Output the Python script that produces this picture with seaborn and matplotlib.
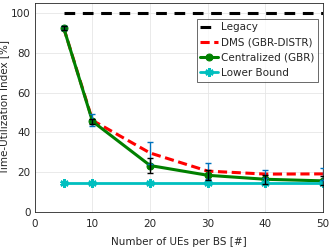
import matplotlib
matplotlib.use("Agg")
import matplotlib.pyplot as plt
import seaborn as sns
import numpy as np
import pandas as pd

ues = [5, 10, 20, 30, 40, 50]
legacy = [100, 100, 100, 100, 100, 100]
dms = [92.5, 46.0, 29.6, 20.5, 19.0, 19.1]
dms_err = [1.0, 3.0, 5.3, 4.0, 2.0, 3.0]
central = [92.5, 45.5, 23.3, 18.4, 16.4, 15.6]
central_err = [1.0, 1.2, 4.0, 2.5, 2.3, 2.2]
lower = [14.3, 14.3, 14.3, 14.3, 14.3, 14.3]

sns.set_style("white")
plt.rcParams['font.family'] = ['DejaVu Sans']

fig = plt.figure(figsize=(3.32, 2.49), dpi=100)
ax = fig.add_axes([0.105, 0.149, 0.868, 0.839])

df = pd.DataFrame({"x": ues, "Legacy": legacy, "DMS": dms, "Central": central, "Lower": lower})

sns.lineplot(data=df, x="x", y="Legacy", ax=ax, color="black", lw=2.2,
             linestyle=(0, (3.5, 2.5)), label="Legacy")
sns.lineplot(data=df, x="x", y="DMS", ax=ax, color="#FF0000", lw=2.2,
             linestyle=(0, (3, 1.5)), label="DMS (GBR-DISTR)")
sns.lineplot(data=df, x="x", y="Central", ax=ax, color="#008000", lw=2.2,
             marker="o", markersize=5, markeredgecolor="#008000", label="Centralized (GBR)")
sns.lineplot(data=df, x="x", y="Lower", ax=ax, color="#00BFBF", lw=2.0,
             marker=(6, 2, 0), markersize=6, markeredgewidth=1.8,
             markeredgecolor="#00BFBF", label="Lower Bound")

ax.errorbar(ues, dms, yerr=dms_err, fmt="none", ecolor="#0072BD", elinewidth=1.0, capsize=2.5, capthick=1.0, zorder=5)
ax.errorbar(ues, central, yerr=central_err, fmt="none", ecolor="black", elinewidth=1.0, capsize=2.5, capthick=1.0, zorder=6)

ax.set_xlim(0, 50)
ax.set_ylim(0, 105)
ax.set_xticks([0, 10, 20, 30, 40, 50])
ax.set_yticks([0, 20, 40, 60, 80, 100])
ax.grid(True, color="#E6E6E6", lw=0.6)
ax.tick_params(labelsize=7.5, direction="in", length=2.5, colors="#262626", pad=3)
ax.tick_params(axis="x", pad=5)
for s in ax.spines.values():
    s.set_color("#262626")
    s.set_linewidth(0.6)
ax.set_xlabel("Number of UEs per BS [#]", fontsize=7.5, color="#262626")
ax.set_ylabel("Time-Utilization Index [%]", fontsize=7.5, color="#262626")
ax.yaxis.set_label_coords(-0.088, 0.5)
ax.xaxis.set_label_coords(0.5, -0.12)

leg = ax.legend(loc="upper right", bbox_to_anchor=(0.99, 0.935), fontsize=7.5, frameon=True,
                fancybox=False, edgecolor="#262626", handlelength=1.7, handletextpad=0.3,
                borderpad=0.35, labelspacing=0.5, borderaxespad=0.2)
leg.get_frame().set_linewidth(0.6)

fig.savefig("out.png", dpi=100)
